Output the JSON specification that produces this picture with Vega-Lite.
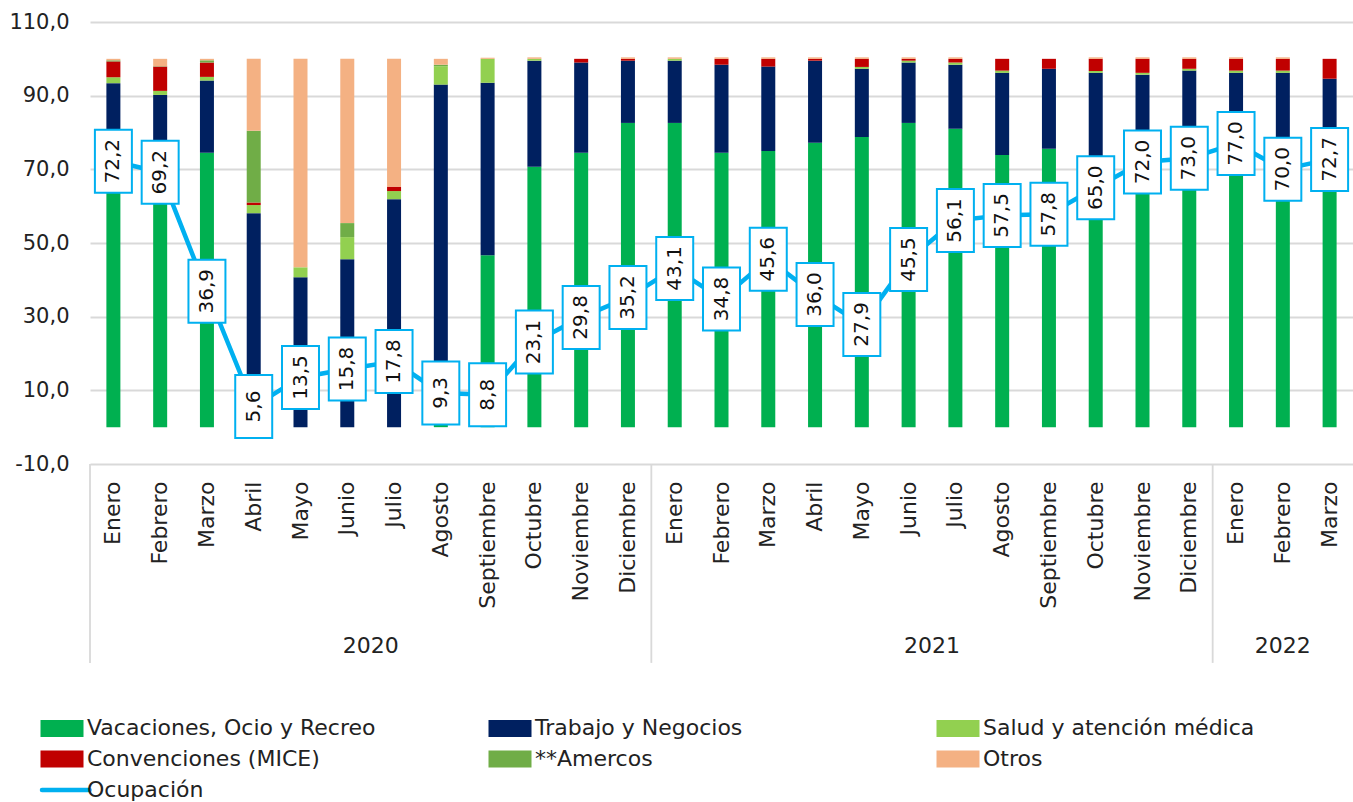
{
  "$schema": "https://vega.github.io/schema/vega-lite/v6.json",
  "width": 1263,
  "height": 442,
  "autosize": "none",
  "padding": {"left": 90, "top": 22, "right": 0, "bottom": 338},
  "background": "white",
  "config": {
    "locale": {"number": {"decimal": ",", "thousands": ".", "grouping": [3], "currency": ["", ""], "minus": "-"}},
    "view": {"stroke": null},
    "font": "DejaVu Sans"
  },
  "datasets": {
    "cats": [
      {"key": "vac", "cat": "Vacaciones, Ocio y Recreo", "ord": 1},
      {"key": "trab", "cat": "Trabajo y Negocios", "ord": 2},
      {"key": "salud", "cat": "Salud y atención médica", "ord": 3},
      {"key": "conv", "cat": "Convenciones (MICE)", "ord": 4},
      {"key": "amer", "cat": "**Amercos", "ord": 5},
      {"key": "otros", "cat": "Otros", "ord": 6}
    ]
  },
  "data": {"values": [
    {"m": "2020-01", "vac": 65, "trab": 28.4, "salud": 1.6, "conv": 4.3, "amer": 0.3, "otros": 0.4, "occ": 72.2},
    {"m": "2020-02", "vac": 62, "trab": 28.2, "salud": 1.1, "conv": 6.6, "amer": 0.1, "otros": 2.0, "occ": 69.2},
    {"m": "2020-03", "vac": 74.5, "trab": 19.6, "salud": 1.0, "conv": 3.9, "amer": 0.6, "otros": 0.4, "occ": 36.9},
    {"m": "2020-04", "vac": 0, "trab": 58.1, "salud": 2.2, "conv": 0.7, "amer": 19.5, "otros": 19.5, "occ": 5.6},
    {"m": "2020-05", "vac": 0, "trab": 40.7, "salud": 2.7, "conv": 0, "amer": 0, "otros": 56.6, "occ": 13.5},
    {"m": "2020-06", "vac": 0, "trab": 45.6, "salud": 6.0, "conv": 0, "amer": 3.8, "otros": 44.6, "occ": 15.8},
    {"m": "2020-07", "vac": 0, "trab": 61.9, "salud": 2.2, "conv": 1.2, "amer": 0, "otros": 34.7, "occ": 17.8},
    {"m": "2020-08", "vac": 1.0, "trab": 92.0, "salud": 5.0, "conv": 0, "amer": 0.4, "otros": 1.6, "occ": 9.3},
    {"m": "2020-09", "vac": 46.7, "trab": 46.8, "salud": 6.5, "conv": 0, "amer": 0, "otros": 0.3, "occ": 8.8},
    {"m": "2020-10", "vac": 70.7, "trab": 28.8, "salud": 0.5, "conv": 0, "amer": 0, "otros": 0.4, "occ": 23.1},
    {"m": "2020-11", "vac": 74.5, "trab": 24.5, "salud": 0, "conv": 1.0, "amer": 0, "otros": 0, "occ": 29.8},
    {"m": "2020-12", "vac": 82.6, "trab": 16.9, "salud": 0, "conv": 0.5, "amer": 0, "otros": 0.4, "occ": 35.2},
    {"m": "2021-01", "vac": 82.6, "trab": 16.9, "salud": 0.5, "conv": 0, "amer": 0, "otros": 0.4, "occ": 43.1},
    {"m": "2021-02", "vac": 74.5, "trab": 23.9, "salud": 0, "conv": 1.6, "amer": 0, "otros": 0.4, "occ": 34.8},
    {"m": "2021-03", "vac": 75.0, "trab": 22.9, "salud": 0, "conv": 2.1, "amer": 0, "otros": 0.4, "occ": 45.6},
    {"m": "2021-04", "vac": 77.2, "trab": 22.3, "salud": 0, "conv": 0.5, "amer": 0, "otros": 0.4, "occ": 36.0},
    {"m": "2021-05", "vac": 78.8, "trab": 18.5, "salud": 0.5, "conv": 2.2, "amer": 0, "otros": 0.4, "occ": 27.9},
    {"m": "2021-06", "vac": 82.6, "trab": 16.4, "salud": 0.5, "conv": 0.5, "amer": 0, "otros": 0.4, "occ": 45.5},
    {"m": "2021-07", "vac": 81.0, "trab": 17.4, "salud": 0.6, "conv": 1.0, "amer": 0, "otros": 0.4, "occ": 56.1},
    {"m": "2021-08", "vac": 73.9, "trab": 22.3, "salud": 0.6, "conv": 3.2, "amer": 0, "otros": 0, "occ": 57.5},
    {"m": "2021-09", "vac": 75.6, "trab": 21.7, "salud": 0, "conv": 2.7, "amer": 0, "otros": 0, "occ": 57.8},
    {"m": "2021-10", "vac": 70.0, "trab": 26.2, "salud": 0.5, "conv": 3.3, "amer": 0, "otros": 0.4, "occ": 65.0},
    {"m": "2021-11", "vac": 73.0, "trab": 22.7, "salud": 0.5, "conv": 3.8, "amer": 0, "otros": 0.4, "occ": 72.0},
    {"m": "2021-12", "vac": 75.0, "trab": 21.8, "salud": 0.5, "conv": 2.7, "amer": 0, "otros": 0.4, "occ": 73.0},
    {"m": "2022-01", "vac": 78.0, "trab": 18.2, "salud": 0.6, "conv": 3.2, "amer": 0, "otros": 0.4, "occ": 77.0},
    {"m": "2022-02", "vac": 72.0, "trab": 24.2, "salud": 0.6, "conv": 3.2, "amer": 0, "otros": 0.4, "occ": 70.0},
    {"m": "2022-03", "vac": 76.0, "trab": 18.6, "salud": 0, "conv": 5.4, "amer": 0, "otros": 0, "occ": 72.7}
  ]},
  "layer": [
    {
      "transform": [
        {"fold": ["vac", "trab", "salud", "conv", "amer", "otros"], "as": ["key", "v"]},
        {"lookup": "key", "from": {"data": {"name": "cats"}, "key": "key", "fields": ["cat", "ord"]}}
      ],
      "mark": {"type": "bar", "width": 14},
      "encoding": {
        "x": {
          "field": "m", "type": "ordinal", "title": null,
          "scale": {"paddingInner": 0, "paddingOuter": 0},
          "axis": {
            "title": null,
            "labelExpr": "['Enero','Febrero','Marzo','Abril','Mayo','Junio','Julio','Agosto','Septiembre','Octubre','Noviembre','Diciembre'][toNumber(slice(datum.value,5))-1]",
            "labelAngle": -90, "labelAlign": "right", "labelBaseline": "middle",
            "labelFontSize": 22, "labelColor": "#222", "labelPadding": 17,
            "ticks": false, "tickSize": 0, "domain": false, "grid": false, "labelOverlap": false
          }
        },
        "y": {
          "field": "v", "type": "quantitative", "stack": "zero", "title": null,
          "scale": {"domain": [-10, 110], "nice": false, "zero": false},
          "axis": {
            "title": null, "values": [-10, 10, 30, 50, 70, 90, 110], "format": ".1f",
            "labelFontSize": 21, "labelColor": "#222", "labelPadding": 21,
            "ticks": false, "tickSize": 0, "domain": false, "grid": true,
            "gridColor": "#d9d9d9", "gridWidth": 1.8
          }
        },
        "color": {
          "field": "cat", "type": "nominal",
          "scale": {
            "domain": ["Vacaciones, Ocio y Recreo", "Trabajo y Negocios", "Salud y atención médica", "Convenciones (MICE)", "**Amercos", "Otros", "Ocupación"],
            "range": ["#00b050", "#002060", "#92d050", "#c00000", "#70ad47", "#f4b183", "#00b0f0"]
          },
          "legend": {
            "title": null, "orient": "none", "legendX": -43, "legendY": 691,
            "direction": "horizontal", "columns": 3, "gridAlign": "all",
            "columnPadding": 105, "rowPadding": -1, "padding": 0,
            "symbolSize": 625, "symbolStrokeWidth": 0, "symbolOpacity": 1,
            "labelFontSize": 22, "labelColor": "#222", "labelLimit": 600, "labelOffset": 10,
            "encode": {
              "symbols": {
                "update": {
                  "shape": {"signal": "datum.value === 'Ocupación' ? 'M-1.6,0L2.2,0' : 'M-1.54,-0.5L1.54,-0.5L1.54,0.5L-1.54,0.5Z'"},
                  "fill": {"scale": "color", "field": "value"},
                  "stroke": {"signal": "datum.value === 'Ocupación' ? '#00b0f0' : null"},
                  "strokeWidth": {"value": 4.5},
                  "strokeCap": {"value": "round"},
                  "opacity": {"value": 1}
                }
              }
            }
          }
        },
        "order": {"field": "ord", "type": "quantitative"}
      }
    },
    {
      "mark": {"type": "line", "strokeWidth": 4.5},
      "encoding": {
        "x": {"field": "m", "type": "ordinal", "title": null},
        "y": {"field": "occ", "type": "quantitative", "title": null},
        "color": {"datum": "Ocupación", "type": "nominal"}
      }
    },
    {
      "mark": {"type": "point", "shape": "M-0.587,-1L0.587,-1L0.587,1L-0.587,1Z", "size": 3969, "filled": true, "fill": "white", "stroke": "#00b0f0", "strokeWidth": 2, "opacity": 1},
      "encoding": {
        "x": {"field": "m", "type": "ordinal", "title": null},
        "y": {"field": "occ", "type": "quantitative", "title": null}
      }
    },
    {
      "mark": {"type": "text", "angle": 270, "fontSize": 20, "align": "center", "baseline": "middle", "color": "#111"},
      "encoding": {
        "x": {"field": "m", "type": "ordinal", "title": null},
        "y": {"field": "occ", "type": "quantitative", "title": null},
        "text": {"field": "occ", "type": "quantitative", "format": ".1f"}
      }
    },
    {
      "data": {"values": [{"m": "2020-01"}, {"m": "2021-01"}, {"m": "2022-01"}]},
      "mark": {"type": "rule", "color": "#d9d9d9", "strokeWidth": 1.8},
      "encoding": {
        "x": {"field": "m", "type": "ordinal", "bandPosition": 0, "title": null},
        "y": {"datum": -10},
        "y2": {"datum": -64}
      }
    },
    {
      "data": {"values": [{"m": "2020-07", "yr": "2020"}, {"m": "2021-07", "yr": "2021"}]},
      "mark": {"type": "text", "fontSize": 22, "align": "center", "baseline": "middle", "color": "#222"},
      "encoding": {
        "x": {"field": "m", "type": "ordinal", "bandPosition": 0, "title": null},
        "y": {"datum": -59.5},
        "text": {"field": "yr", "type": "nominal"}
      }
    },
    {
      "data": {"values": [{"m": "2022-02", "yr": "2022"}]},
      "mark": {"type": "text", "fontSize": 22, "align": "center", "baseline": "middle", "color": "#222"},
      "encoding": {
        "x": {"field": "m", "type": "ordinal", "bandPosition": 0.5, "title": null},
        "y": {"datum": -59.5},
        "text": {"field": "yr", "type": "nominal"}
      }
    }
  ]
}
